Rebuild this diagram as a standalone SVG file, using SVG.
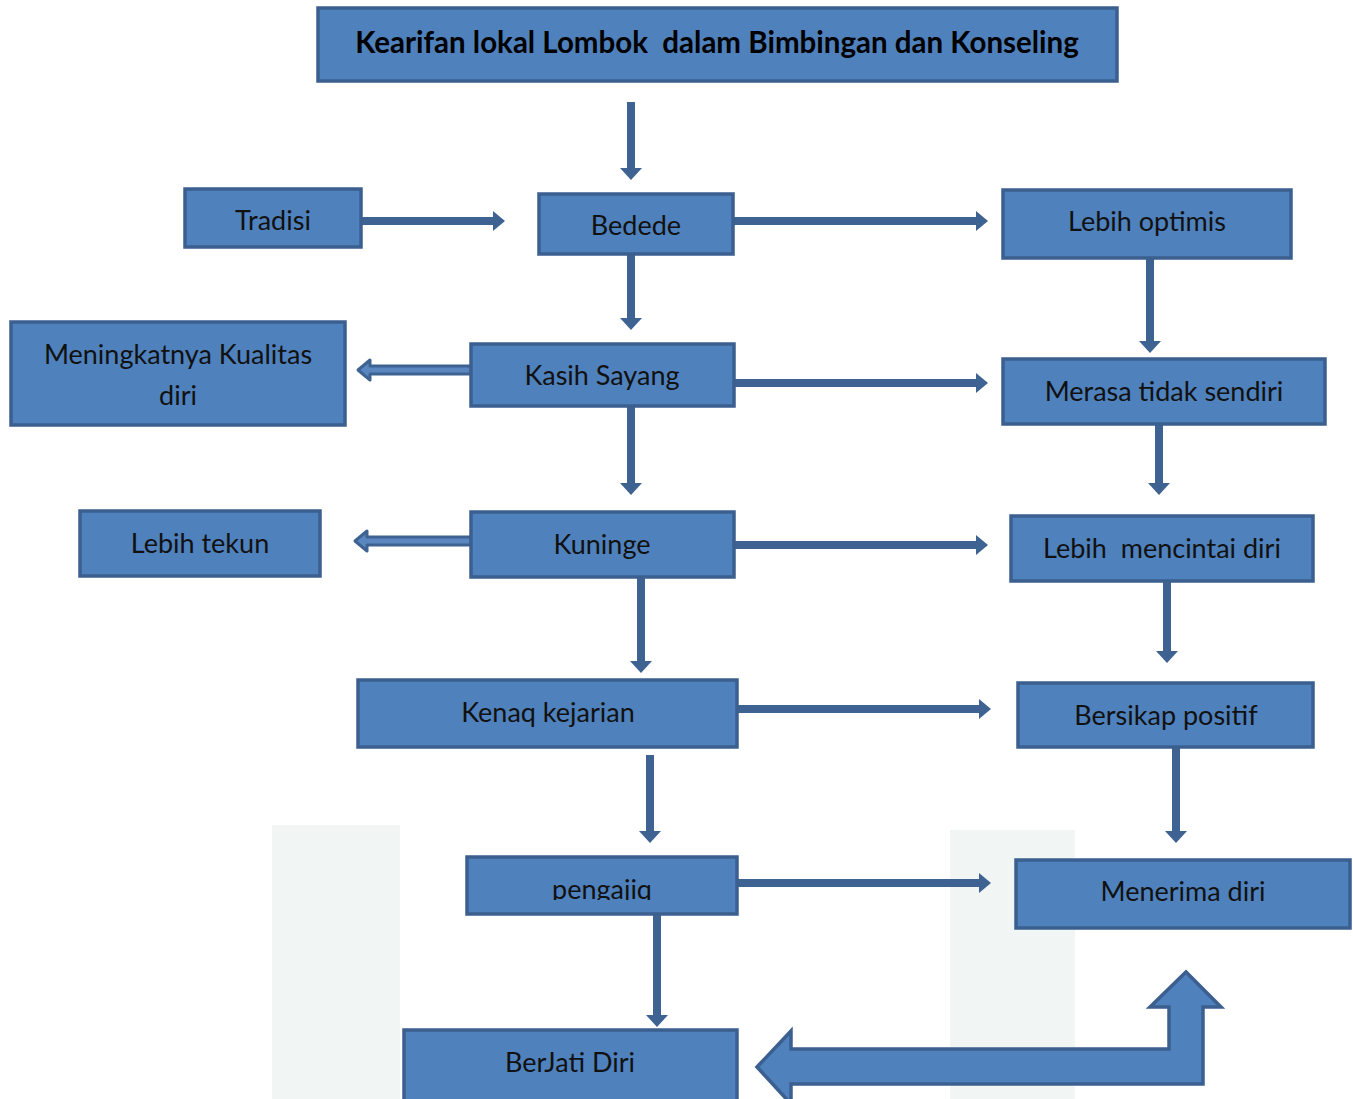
<svg xmlns="http://www.w3.org/2000/svg" width="1353" height="1099" viewBox="0 0 1353 1099">
<style>
.box{fill:#4f81bd;stroke:#3b5f8e;stroke-width:3.5}
.t{font-family:Lato,"Liberation Sans",sans-serif;font-size:27px;fill:#111;text-anchor:middle}
.title{font-family:Lato,"Liberation Sans",sans-serif;font-size:29.5px;font-weight:bold;fill:#000;text-anchor:middle}
.c{stroke:#3e6392;stroke-width:8;fill:none}
.h{fill:#3e6392}
.hol{fill:#5b87c0;stroke:#3e6392;stroke-width:3;stroke-linejoin:round}
.wm{fill:#f1f5f3}
</style>
<defs>
<clipPath id="clipP"><rect x="467" y="857" width="270" height="43"/></clipPath>
</defs>
<g id="watermark">
<rect class="wm" x="272" y="825" width="128" height="274"/>
<rect class="wm" x="950" y="830" width="125" height="269"/>
</g>
<g id="connectors">
<line class="c" x1="631" y1="102" x2="631" y2="170"/><polygon class="h" points="620,168 642,168 631,180"/>
<line class="c" x1="361" y1="221" x2="495" y2="221"/><polygon class="h" points="493,211 493,231 505,221"/>
<line class="c" x1="733" y1="221" x2="978" y2="221"/><polygon class="h" points="976,211 976,231 988,221"/>
<line class="c" x1="1150" y1="258" x2="1150" y2="343"/><polygon class="h" points="1139,341 1161,341 1150,353"/>
<line class="c" x1="631" y1="254" x2="631" y2="320"/><polygon class="h" points="620,318 642,318 631,330"/>
<path class="hol" d="M471 366 L370 366 L370 360 L358 370 L370 380 L370 374 L471 374 Z"/>
<line class="c" x1="734" y1="383" x2="978" y2="383"/><polygon class="h" points="976,373 976,393 988,383"/>
<line class="c" x1="1159" y1="424" x2="1159" y2="485"/><polygon class="h" points="1148,483 1170,483 1159,495"/>
<line class="c" x1="631" y1="406" x2="631" y2="485"/><polygon class="h" points="620,483 642,483 631,495"/>
<path class="hol" d="M471 537 L367 537 L367 531 L355 541 L367 551 L367 545 L471 545 Z"/>
<line class="c" x1="734" y1="545" x2="978" y2="545"/><polygon class="h" points="976,535 976,555 988,545"/>
<line class="c" x1="1167" y1="581" x2="1167" y2="653"/><polygon class="h" points="1156,651 1178,651 1167,663"/>
<line class="c" x1="641" y1="577" x2="641" y2="663"/><polygon class="h" points="630,661 652,661 641,673"/>
<line class="c" x1="737" y1="709" x2="981" y2="709"/><polygon class="h" points="979,699 979,719 991,709"/>
<line class="c" x1="1176" y1="747" x2="1176" y2="833"/><polygon class="h" points="1165,831 1187,831 1176,843"/>
<line class="c" x1="650" y1="755" x2="650" y2="833"/><polygon class="h" points="639,831 661,831 650,843"/>
<line class="c" x1="737" y1="883" x2="981" y2="883"/><polygon class="h" points="979,873 979,893 991,883"/>
<line class="c" x1="657" y1="914" x2="657" y2="1017"/><polygon class="h" points="646,1015 668,1015 657,1027"/>
<path d="M757 1067 L791 1031 L791 1049 L1169 1049 L1169 1007 L1150 1007 L1186 972 L1221 1007 L1203 1007 L1203 1084 L791 1084 L791 1104 Z" fill="#4f81bd" stroke="#3b5f8e" stroke-width="3.5" stroke-linejoin="miter"/>
</g>
<g id="n-title"><rect class="box" x="318" y="8" width="799" height="73"/><text class="title" x="717" y="53" xml:space="preserve">Kearifan lokal Lombok  dalam Bimbingan dan Konseling</text></g>
<g id="n-tradisi"><rect class="box" x="185" y="189" width="176" height="58"/><text class="t" x="273" y="230">Tradisi</text></g>
<g id="n-bedede"><rect class="box" x="539" y="194" width="194" height="60"/><text class="t" x="636" y="235">Bedede</text></g>
<g id="n-optimis"><rect class="box" x="1003" y="190" width="288" height="68"/><text class="t" x="1147" y="231">Lebih optimis</text></g>
<g id="n-kasih"><rect class="box" x="471" y="344" width="263" height="62"/><text class="t" x="602" y="385">Kasih Sayang</text></g>
<g id="n-kualitas"><rect class="box" x="11" y="322" width="334" height="103"/><text class="t" x="178" y="364">Meningkatnya Kualitas</text><text class="t" x="178" y="405">diri</text></g>
<g id="n-merasa"><rect class="box" x="1003" y="359" width="322" height="65"/><text class="t" x="1164" y="401">Merasa tidak sendiri</text></g>
<g id="n-kuninge"><rect class="box" x="471" y="512" width="263" height="65"/><text class="t" x="602" y="554">Kuninge</text></g>
<g id="n-tekun"><rect class="box" x="80" y="511" width="240" height="65"/><text class="t" x="200" y="553">Lebih tekun</text></g>
<g id="n-mencintai"><rect class="box" x="1011" y="516" width="302" height="65"/><text class="t" x="1162" y="558" xml:space="preserve">Lebih  mencintai diri</text></g>
<g id="n-kenaq"><rect class="box" x="358" y="680" width="379" height="67"/><text class="t" x="548" y="722">Kenaq kejarian</text></g>
<g id="n-bersikap"><rect class="box" x="1018" y="683" width="295" height="64"/><text class="t" x="1166" y="725">Bersikap positif</text></g>
<g id="n-pengajiq"><rect class="box" x="467" y="857" width="270" height="57"/><text class="t" x="602" y="899" clip-path="url(#clipP)">pengajiq</text></g>
<g id="n-menerima"><rect class="box" x="1016" y="860" width="334" height="68"/><text class="t" x="1183" y="901">Menerima diri</text></g>
<g id="n-berjati"><rect class="box" x="404" y="1030" width="333" height="75"/><text class="t" x="570" y="1072">BerJati Diri</text></g>
</svg>
